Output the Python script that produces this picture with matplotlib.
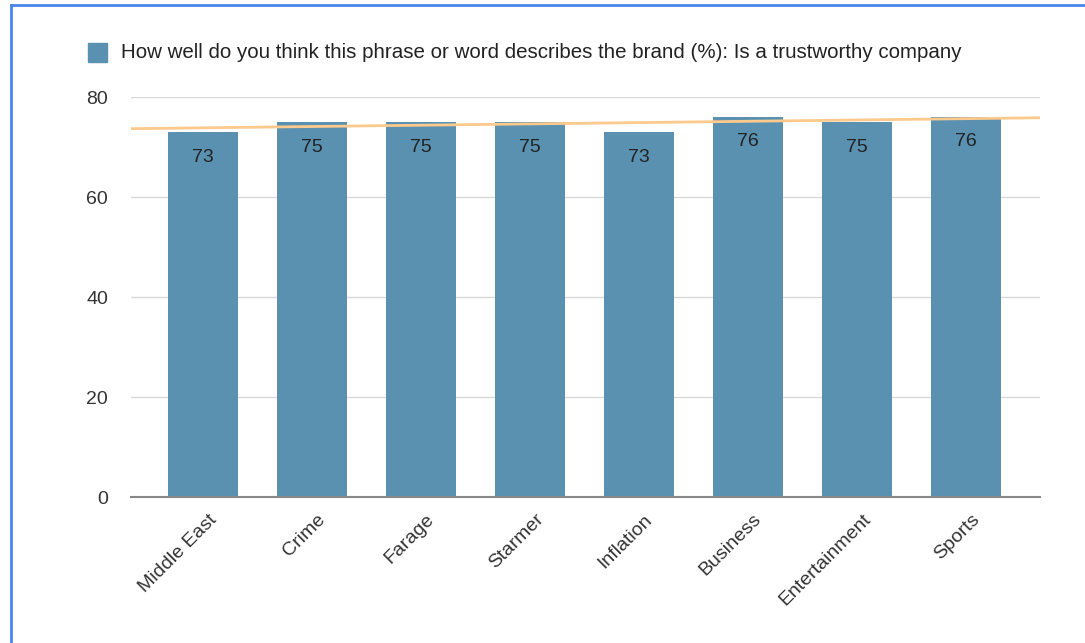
import numpy as np
import matplotlib.pyplot as plt
import matplotlib.transforms as mtransforms
from matplotlib.patches import Rectangle
from matplotlib.lines import Line2D

categories = ["Middle East", "Crime", "Farage", "Starmer", "Inflation",
              "Business", "Entertainment", "Sports"]
values = [73, 75, 75, 75, 73, 76, 75, 76]
series_label = ("How well do you think this phrase or word describes the brand (%): "
                "Is a trustworthy company")
y_ticks = [0, 20, 40, 60, 80]

BAR_COLOR = "#5a91b0"
TREND_COLOR = "#fdc98c"
TEXT_COLOR = "#222222"

plt.rcParams["font.family"] = ["Liberation Sans", "DejaVu Sans"]

W, H = 1085, 643
fig = plt.figure(figsize=(W / 100, H / 100), dpi=100)
fig.patch.set_facecolor("white")

# axes box in pixel coordinates
left, right, top, bottom = 131, 1040, 97, 497
ax = fig.add_axes([left / W, 1 - bottom / H, (right - left) / W, (bottom - top) / H])

x = np.arange(len(categories))
ax.bar(x, values, width=0.645, color=BAR_COLOR, zorder=2)

xlo, xhi = -0.66, 7.68
ax.set_xlim(xlo, xhi)
ax.set_ylim(0, 80)

# linear trendline across the full plot width
slope, intercept = np.polyfit(x, values, 1)
tx = np.array([xlo, xhi])
ax.plot(tx, slope * tx + intercept, color=TREND_COLOR, lw=2, zorder=3,
        solid_capstyle="butt")

for xi, v in zip(x, values):
    ax.annotate(str(v), (xi, v), xytext=(0, -18), textcoords="offset points",
                ha="center", va="center", fontsize=14, color=TEXT_COLOR, zorder=4)

ax.set_yticks(y_ticks)
ax.set_yticklabels([str(t) for t in y_ticks], fontsize=14, color="#333333")
ax.tick_params(axis="y", length=0, pad=16.5)
ax.yaxis.grid(True, color="#d9d9d9", lw=1, zorder=0)
ax.set_axisbelow(True)

ax.set_xticks(x)
ax.set_xticklabels(categories, rotation=45, ha="right", va="top",
                   rotation_mode="anchor", fontsize=14, color="#333333")
ax.tick_params(axis="x", length=0, pad=10)
shift = mtransforms.ScaledTranslation(5 / 100, 0, fig.dpi_scale_trans)
for lbl in ax.get_xticklabels():
    lbl.set_transform(lbl.get_transform() + shift)

for s in ["top", "right", "left"]:
    ax.spines[s].set_visible(False)
ax.spines["bottom"].set_color("#888888")
ax.spines["bottom"].set_linewidth(1.5)
ax.spines["bottom"].set_zorder(5)

# legend entry at the top left
fig.patches.append(Rectangle((88 / W, 1 - 62 / H), 19 / W, 19 / H,
                             transform=fig.transFigure, color=BAR_COLOR))
fig.text(121 / W, 1 - 53 / H, series_label, ha="left", va="center",
         fontsize=14.8, color=TEXT_COLOR)

# blue frame along the top and left edges
fig.lines.append(Line2D([11 / W, 11 / W], [0, 1 - 5 / H], transform=fig.transFigure,
                        color="#4a86e8", lw=2))
fig.lines.append(Line2D([11 / W, 1], [1 - 5 / H, 1 - 5 / H], transform=fig.transFigure,
                        color="#4a86e8", lw=2))

fig.savefig("out.png", dpi=100)
